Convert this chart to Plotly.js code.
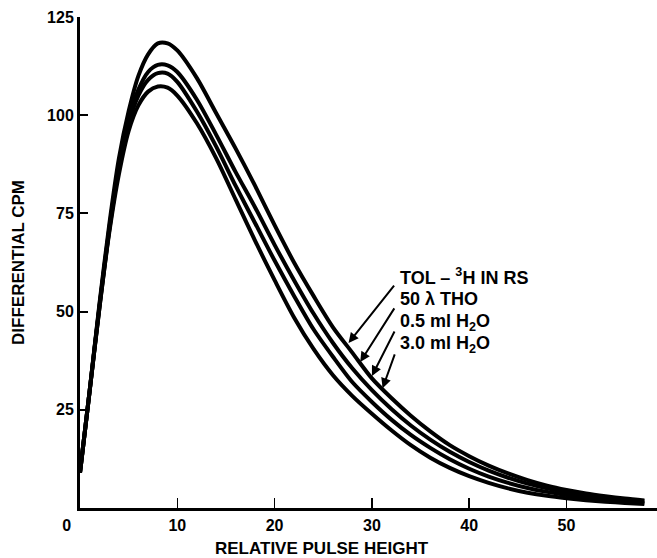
<!DOCTYPE html>
<html>
<head>
<meta charset="utf-8">
<script src="https://cdn.plot.ly/plotly-3.0.1.min.js"></script>
<style>html,body{margin:0;padding:0;background:#fff;}#chart{width:657px;height:558px;}</style>
</head>
<body>
<div id="chart"></div>
<script>
// Relative pulse height (x) and differential CPM (y)
const pulseHeight = [0, 1, 2, 3, 4, 5, 6, 7, 8, 9, 10, 12, 14, 16, 18, 20, 22, 24, 26, 28, 30, 32, 34, 36, 38, 40, 42, 44, 46, 48, 50, 52, 54, 56, 58];
const tolInRS  = [9, 30, 52, 72, 89, 101, 110, 115.5, 118.3, 118.3, 116.5, 109.5, 100.5, 91.5, 82, 72, 62.5, 54, 46, 39.5, 33, 28, 23.5, 19.5, 16, 13.2, 10.8, 8.8, 7.1, 5.7, 4.6, 3.7, 3.0, 2.4, 1.9];
const tho50    = [9, 30, 51.5, 71, 87.5, 99, 106.5, 111, 112.8, 112.7, 111, 104, 95, 85.5, 76.5, 67, 58, 49.5, 42, 35.5, 30, 25.2, 21, 17.4, 14.3, 11.7, 9.5, 7.7, 6.2, 5.0, 4.0, 3.2, 2.6, 2.1, 1.7];
const h2o05    = [9, 30, 51, 70.5, 86.5, 98, 105, 109, 110.7, 110.6, 108.5, 101, 92, 82, 72.5, 63, 54, 45.5, 38.5, 32, 27, 22.5, 18.6, 15.3, 12.4, 10, 8, 6.4, 5.1, 4.1, 3.3, 2.6, 2.1, 1.7, 1.3];
const h2o30    = [9, 30, 51, 70, 85, 96, 102.5, 106, 107.3, 107, 105, 98, 89, 78.5, 68, 58, 48.5, 40.5, 33.8, 28.5, 24, 19.8, 16, 12.8, 10.2, 8.1, 6.4, 5.0, 3.9, 3.1, 2.5, 2.0, 1.6, 1.3, 1.0];

const seriesNames = ['TOL – <sup>3</sup>H IN RS', '50 λ THO', '0.5 ml H<sub>2</sub>O', '3.0 ml H<sub>2</sub>O'];
const seriesValues = [tolInRS, tho50, h2o05, h2o30];
// arrow tip positions on each curve (x in pulse height units)
const arrowTipX = [27.6, 28.8, 30.0, 31.1];
const arrowTipY = [42.0, 37.2, 33.6, 30.5];
const labelX = 32.7;
const labelY = [59.0, 53.2, 47.3, 41.5];

const xTickVals = [0, 10, 20, 30, 40, 50];
const xTickText = ['0\u00a0\u00a0\u00a0\u00a0\u00a0\u00a0', '10', '20', '30', '40', '50'];
const yTickVals = [25, 50, 75, 100, 125];
const yTickText = ['25', '50', '75', '100', '125'];

const FONT = 'Liberation Sans, Arial, Helvetica, sans-serif';

const traces = seriesValues.map((vals, i) => ({
  x: pulseHeight, y: vals, type: 'scatter', mode: 'lines',
  name: seriesNames[i],
  line: {color: '#000', width: 4, shape: 'spline', smoothing: 0.8},
  showlegend: false, hoverinfo: 'skip'
}));

const annotations = [];
seriesNames.forEach((nm, i) => {
  annotations.push({
    x: labelX, y: labelY[i], xref: 'x', yref: 'y', text: nm, showarrow: false,
    xanchor: 'left', yanchor: 'middle',
    font: {family: FONT, size: 18, color: '#000', weight: 700}
  });
  annotations.push({
    x: arrowTipX[i], y: arrowTipY[i], xref: 'x', yref: 'y', text: '',
    showarrow: true, arrowhead: 2, arrowsize: 1, arrowwidth: 2, arrowcolor: '#000',
    axref: 'x', ayref: 'y', ax: labelX - 0.3, ay: labelY[i] - 2.0,
    standoff: 0, startstandoff: 0
  });
});
annotations.push({
  xref: 'paper', yref: 'paper', x: (322 - 80) / 577, y: -0.082, yanchor: 'middle', xanchor: 'center',
  text: 'RELATIVE PULSE HEIGHT', showarrow: false,
  font: {family: FONT, size: 17, color: '#000', weight: 700}
});

const layout = {
  width: 657, height: 558,
  margin: {l: 80, r: 0, t: 17, b: 50, pad: 0},
  paper_bgcolor: '#fff', plot_bgcolor: '#fff',
  showlegend: false,
  font: {family: FONT, color: '#000', size: 16, weight: 700},
  xaxis: {
    range: [0, 59.3], showgrid: false, zeroline: false,
    showline: true, linecolor: '#000', linewidth: 3,
    tickmode: 'array', tickvals: xTickVals, ticktext: xTickText,
    ticks: 'inside', ticklen: 10, tickwidth: 1.6, tickcolor: '#000',
    tickfont: {family: FONT, size: 16, color: '#000', weight: 700},
    ticklabelstandoff: 1
  },
  yaxis: {
    range: [0, 125], showgrid: false, zeroline: false,
    showline: true, linecolor: '#000', linewidth: 3,
    tickmode: 'array', tickvals: yTickVals, ticktext: yTickText,
    ticks: 'inside', ticklen: 8, tickwidth: 2, tickcolor: '#000',
    tickfont: {family: FONT, size: 16, color: '#000', weight: 700},
    title: {text: 'DIFFERENTIAL CPM', font: {family: FONT, size: 17, color: '#000', weight: 700}, standoff: 19}
  },
  annotations: annotations
};

Plotly.newPlot('chart', traces, layout, {displayModeBar: false, staticPlot: true});
</script>
</body>
</html>
